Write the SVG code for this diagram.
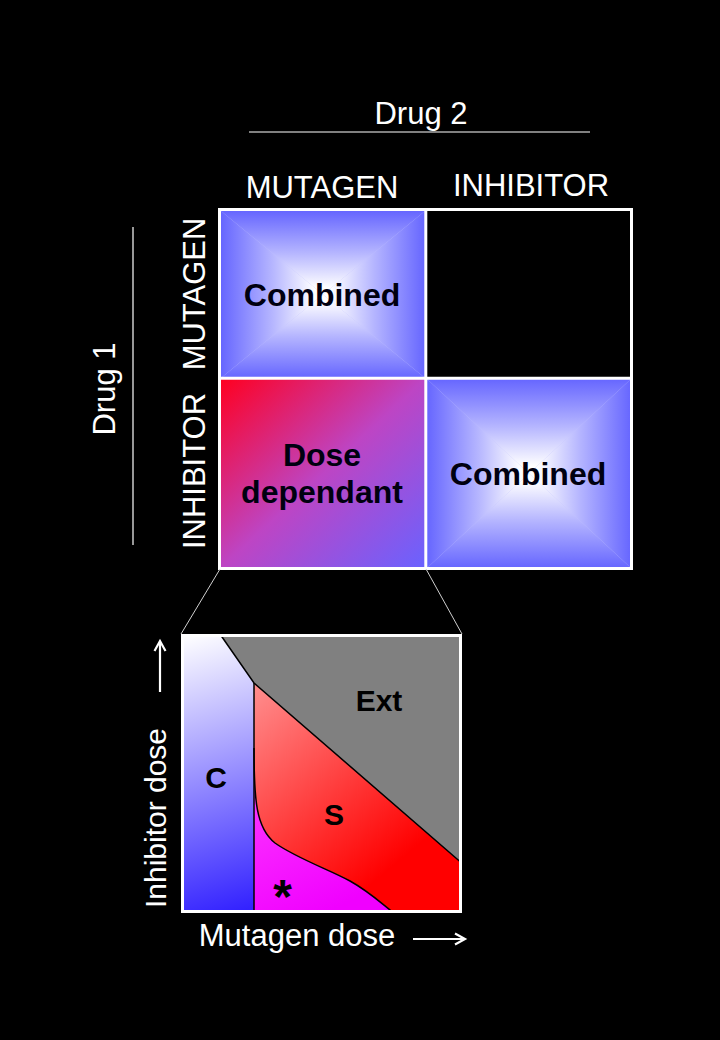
<svg xmlns="http://www.w3.org/2000/svg" width="720" height="1040" viewBox="0 0 720 1040">
<defs>
<style>
.lbl{font-family:"Liberation Sans",Arial,sans-serif;font-size:31px;fill:#ffffff}
.cell{font-family:"Liberation Sans",Arial,sans-serif;font-size:32px;font-weight:bold;fill:#000010;text-anchor:middle}
.plt{font-family:"Liberation Sans",Arial,sans-serif;font-size:30px;font-weight:bold;fill:#000000;text-anchor:middle}
.rule{stroke:#ffffff;stroke-width:1.2;fill:none}
.arr{stroke:#ffffff;stroke-width:2.2;fill:none}
.grid{stroke:#ffffff;stroke-width:3;fill:none}
.bnd{stroke:#000000;stroke-width:1.5;fill:none}
.zoomln{stroke:#d0d0d0;stroke-width:1;fill:none}
</style>
<linearGradient id="gT" x1="0" y1="0" x2="0" y2="1"><stop offset="0" stop-color="#6666ff"/><stop offset="0.5" stop-color="#b5b5ff"/><stop offset="0.92" stop-color="#ffffff"/></linearGradient>
<linearGradient id="gB" x1="0" y1="1" x2="0" y2="0"><stop offset="0" stop-color="#6666ff"/><stop offset="0.5" stop-color="#b5b5ff"/><stop offset="0.92" stop-color="#ffffff"/></linearGradient>
<linearGradient id="gL" x1="0" y1="0" x2="1" y2="0"><stop offset="0" stop-color="#6666ff"/><stop offset="0.5" stop-color="#b5b5ff"/><stop offset="0.92" stop-color="#ffffff"/></linearGradient>
<linearGradient id="gR" x1="1" y1="0" x2="0" y2="0"><stop offset="0" stop-color="#6666ff"/><stop offset="0.5" stop-color="#b5b5ff"/><stop offset="0.92" stop-color="#ffffff"/></linearGradient>
<linearGradient id="gDose" x1="0" y1="0" x2="1" y2="1"><stop offset="0" stop-color="#ff0020"/><stop offset="0.5" stop-color="#bd45c4"/><stop offset="1" stop-color="#6a62ff"/></linearGradient>
<linearGradient id="gC" gradientUnits="userSpaceOnUse" x1="183" y1="636" x2="262" y2="905"><stop offset="0" stop-color="#ffffff"/><stop offset="1" stop-color="#3322ff"/></linearGradient>
<linearGradient id="gS" gradientUnits="userSpaceOnUse" x1="258" y1="690" x2="400" y2="860"><stop offset="0" stop-color="#ff8a8a"/><stop offset="1" stop-color="#ff0000"/></linearGradient>
<linearGradient id="gM" gradientUnits="userSpaceOnUse" x1="256" y1="760" x2="330" y2="911"><stop offset="0" stop-color="#ff40ff"/><stop offset="1" stop-color="#f000ff"/></linearGradient>
</defs>
<rect x="0" y="0" width="720" height="1040" fill="#000000"/>

<g id="header-drug2">
<text class="lbl" x="421" y="124" text-anchor="middle">Drug 2</text>
<line class="rule" x1="249" y1="132" x2="590" y2="132"/>
<text class="lbl" x="322" y="198" text-anchor="middle">MUTAGEN</text>
<text class="lbl" x="531" y="196" text-anchor="middle">INHIBITOR</text>
</g>

<g id="header-drug1">
<text class="lbl" transform="translate(115,389) rotate(-90)" text-anchor="middle">Drug 1</text>
<line class="rule" x1="133" y1="227" x2="133" y2="545"/>
<text class="lbl" transform="translate(205,294) rotate(-90)" text-anchor="middle">MUTAGEN</text>
<text class="lbl" transform="translate(205,471) rotate(-90)" text-anchor="middle">INHIBITOR</text>
</g>

<g id="cell-mm">
<rect x="221" y="211" width="204" height="167" fill="#c0c0ff"/>
<polygon points="221,211 425,211 323,294.5" fill="url(#gT)"/>
<polygon points="221,378 425,378 323,294.5" fill="url(#gB)"/>
<polygon points="221,211 221,378 323,294.5" fill="url(#gL)"/>
<polygon points="425,211 425,378 323,294.5" fill="url(#gR)"/>
<text class="cell" x="322" y="306">Combined</text>
</g>

<g id="cell-im">
<rect x="221" y="379" width="204" height="189" fill="url(#gDose)"/>
<text class="cell" x="322" y="466">Dose</text>
<text class="cell" x="322" y="503">dependant</text>
</g>

<g id="cell-ii">
<rect x="427" y="379" width="204" height="189" fill="#c0c0ff"/>
<polygon points="427,379 631,379 529,473.5" fill="url(#gT)"/>
<polygon points="427,568 631,568 529,473.5" fill="url(#gB)"/>
<polygon points="427,379 427,568 529,473.5" fill="url(#gL)"/>
<polygon points="631,379 631,568 529,473.5" fill="url(#gR)"/>
<text class="cell" x="528" y="485">Combined</text>
</g>

<g id="grid">
<rect class="grid" x="219.5" y="209.5" width="412" height="359"/>
<line class="grid" x1="425.8" y1="209.5" x2="425.8" y2="568.5"/>
<line class="grid" x1="219.5" y1="378.3" x2="631.5" y2="378.3"/>
</g>

<g id="connectors">
<line class="zoomln" x1="220" y1="569" x2="181" y2="634"/>
<line class="zoomln" x1="426" y1="569" x2="462" y2="634"/>
</g>

<g id="dose-plot">
<rect x="182.5" y="635.5" width="278" height="276" fill="url(#gC)"/>
<polygon points="221,635.5 460.5,635.5 460.5,862 254,683" fill="#808080"/>
<polygon points="254,683 460.5,862 460.5,911.5 254,911.5" fill="url(#gS)"/>
<path d="M254,748 C254,800 256,828 275,843 C296,858 330,870 350,881 C368,891 380,902 392,911.5 L254,911.5 Z" fill="url(#gM)"/>
<polyline class="bnd" points="221,635.5 254,683 460.5,862"/>
<line class="bnd" x1="254" y1="683" x2="254" y2="911.5"/>
<path class="bnd" d="M254,748 C254,800 256,828 275,843 C296,858 330,870 350,881 C368,891 380,902 392,911.5"/>
<rect x="182.5" y="635.5" width="278" height="276" fill="none" stroke="#ffffff" stroke-width="3"/>
<text class="plt" x="379" y="711">Ext</text>
<text class="plt" x="216" y="788">C</text>
<text class="plt" x="334" y="825">S</text>
<text class="plt" x="282.5" y="913" style="font-size:48px">*</text>
</g>

<g id="axis-labels">
<text class="lbl" transform="translate(166,818) rotate(-90)" text-anchor="middle" style="font-size:30px">Inhibitor dose</text>
<line class="arr" x1="160" y1="692" x2="160" y2="642"/>
<polyline class="arr" points="154.5,651 160,641 165.5,651"/>
<text class="lbl" x="297" y="946" text-anchor="middle">Mutagen dose</text>
<line class="arr" x1="413" y1="939" x2="464" y2="939"/>
<polyline class="arr" points="455,933.5 465,939 455,944.5"/>
</g>
</svg>
